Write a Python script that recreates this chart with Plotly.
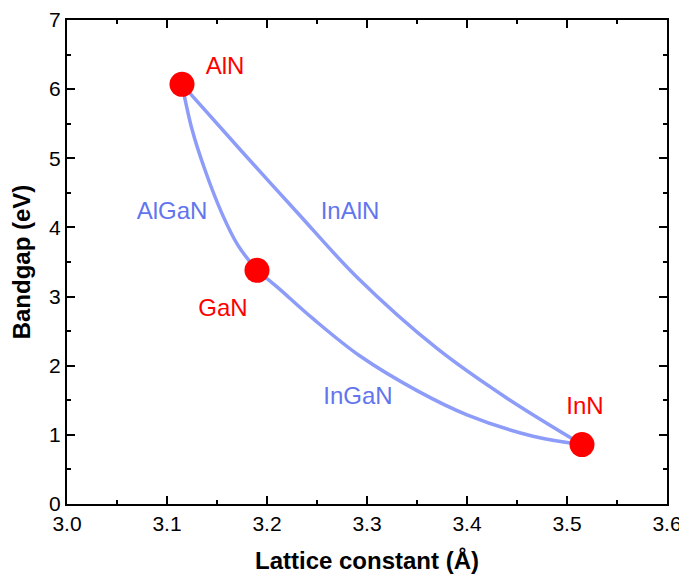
import plotly.graph_objects as go

# Binary compounds
compound_names = ["AlN", "GaN", "InN"]
compound_a = [3.115, 3.190, 3.515]
compound_eg = [6.07, 3.38, 0.86]

# Alloy curves
algan_a = [3.115, 3.125, 3.138, 3.155, 3.171, 3.190]
algan_eg = [6.07, 5.42, 4.83, 4.20, 3.74, 3.38]

inaln_a = [3.115, 3.176, 3.230, 3.290, 3.370, 3.440, 3.515]
inaln_eg = [6.07, 5.08, 4.22, 3.28, 2.25, 1.53, 0.86]

ingan_a = [3.190, 3.210, 3.246, 3.293, 3.350, 3.400, 3.466, 3.515]
ingan_eg = [3.38, 3.14, 2.68, 2.14, 1.64, 1.29, 0.98, 0.86]

# Labels
label_texts = ["AlN", "GaN", "InN"]
label_x = [3.158, 3.156, 3.518]
label_y = [6.30, 2.80, 1.39]
alloy_texts = ["AlGaN", "InAlN", "InGaN"]
alloy_x = [3.105, 3.283, 3.291]
alloy_y = [4.21, 4.21, 1.53]

line_color = "#8c9cf8"
alloy_label_color = "#6275ee"
red = "#ff0000"
FONT = "Liberation Sans, Arial"

fig = go.Figure()
for xs, ys in [(algan_a, algan_eg), (inaln_a, inaln_eg), (ingan_a, ingan_eg)]:
    fig.add_trace(go.Scatter(x=xs, y=ys, mode="lines",
                             line=dict(color=line_color, width=3.5, shape="spline", smoothing=1.0),
                             showlegend=False, hoverinfo="skip"))

fig.add_trace(go.Scatter(x=compound_a, y=compound_eg, mode="markers",
                         marker=dict(color=red, size=25, line=dict(width=0)),
                         text=compound_names, showlegend=False))

fig.add_trace(go.Scatter(x=label_x, y=label_y, mode="text", text=label_texts,
                         textfont=dict(color=red, size=24, family=FONT),
                         showlegend=False, hoverinfo="skip"))
fig.add_trace(go.Scatter(x=alloy_x, y=alloy_y, mode="text", text=alloy_texts,
                         textfont=dict(color=alloy_label_color, size=24, family=FONT),
                         showlegend=False, hoverinfo="skip"))

axis_common = dict(showline=True, linecolor="black", linewidth=2, mirror="ticks",
                   ticks="inside", ticklen=8, tickwidth=1.5, tickcolor="black",
                   showgrid=False, zeroline=False, automargin=False,
                   tickfont=dict(size=21, family=FONT, color="black"))

fig.update_xaxes(range=[3.0, 3.6], dtick=0.1, tick0=3.0, tickformat=".1f",
                 minor=dict(dtick=0.05, ticks="inside", ticklen=4, tickwidth=1.5, tickcolor="black"),
                 title=dict(text="<b>Lattice constant (Å)</b>", standoff=18,
                            font=dict(size=24, family=FONT, color="black")),
                 **axis_common)
fig.update_yaxes(range=[0, 7], dtick=1, tick0=0,
                 minor=dict(dtick=0.5, ticks="inside", ticklen=4, tickwidth=1.5, tickcolor="black"),
                 title=dict(text="<b>Bandgap (eV)</b>", standoff=12,
                            font=dict(size=24, family=FONT, color="black")),
                 **axis_common)

# page body has an 8px margin, so the figure is sized to fit the 687x581 window
fig.update_layout(width=679, height=573, margin=dict(l=59, r=20, t=12, b=77),
                  plot_bgcolor="white", paper_bgcolor="white")

fig.write_html("out.html")
